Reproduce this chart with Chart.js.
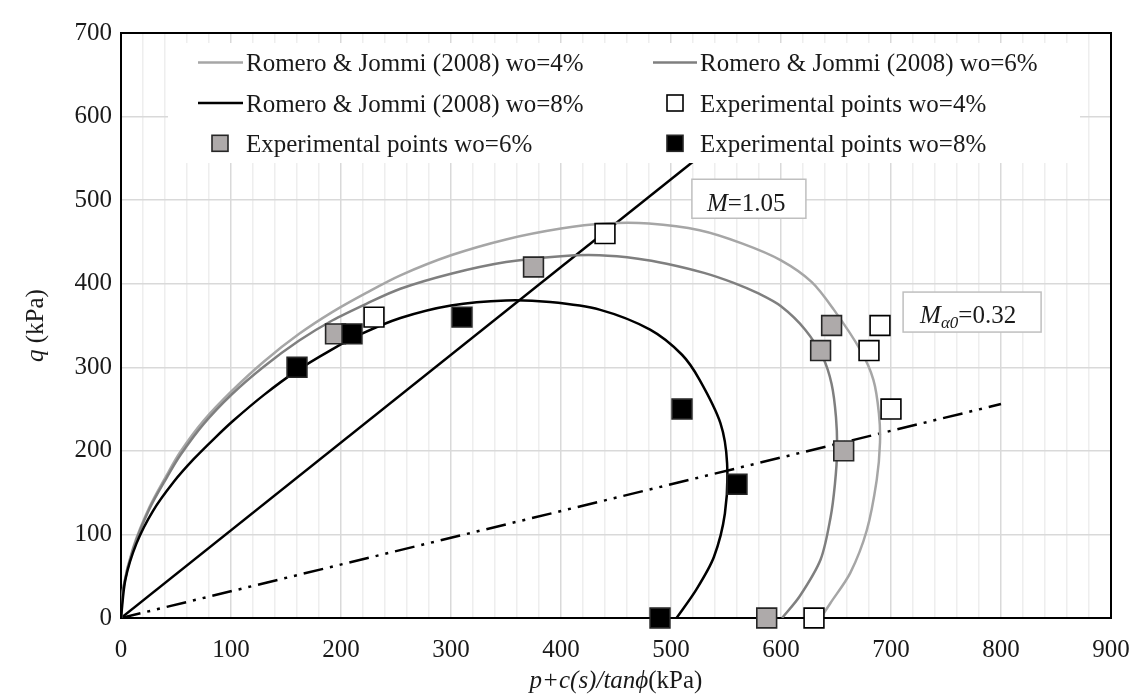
<!DOCTYPE html>
<html><head><meta charset="utf-8">
<script src="https://cdn.jsdelivr.net/npm/chart.js@4.4.0/dist/chart.umd.min.js"></script>
<style>html,body{margin:0;padding:0;background:#fff;}canvas{display:block;}</style>
</head><body>
<canvas id="c" width="1137" height="700"></canvas>
<script>
// ---- data ----
const rj4 = [[0,0],[2,36],[11,84],[26,133],[42,172],[54,199],[75,236],[101,272],[130,307],[162,340],[192,366],[223,389],[254,410],[300,434],[350,453],[400,466],[440,472],[480,472],[526,464],[565,448],[600,428],[628,402],[648,369],[672,321],[684,285],[689,245],[690,210],[687,165],[678,105],[663,54],[645,18],[636,0]];
const rj6 = [[0,0],[2,35],[11,82],[26,131],[42,169],[54,195],[75,232],[101,268],[130,301],[162,332],[192,356],[223,376],[254,394],[300,412],[350,426],[400,433],[435,434],[470,430],[496,424],[530,413],[557,401],[580,388],[600,373],[622,345],[638,312],[646,280],[650,240],[651,200],[649,160],[645,120],[636,70],[617,26],[601,0]];
const rj8 = [[0,0],[4,46],[14,89],[29,128],[48,163],[66,190],[85,215],[102,236],[130,267],[160,296],[190,320],[217,339],[254,359],[300,374],[350,380],[390,378],[435,369],[481,345],[510,315],[526,285],[545,233],[551,185],[549,125],[539,73],[523,34],[505,0]];
const exp4 = [[230,360],[440,460],[680,320],[690,350],[700,250],[630,0]];
const exp6 = [[195,340],[375,420],[636,320],[646,350],[657,200],[587,0]];
const exp8 = [[160,300],[210,340],[310,360],[510,250],[560,160],[490,0]];
const lineM = [[0,0],[600,630]];
const lineMa0 = [[0,0],[800,256]];
const legendLabels = ["Romero & Jommi (2008) wo=4%","Romero & Jommi (2008) wo=6%","Romero & Jommi (2008) wo=8%","Experimental points wo=4%","Experimental points wo=6%","Experimental points wo=8%"];
const xTitle = ["p+c(s)/tan\u03D5","(kPa)"];
const yTitle = ["q"," (kPa)"];
const annoM = ["M","=1.05"];
const annoMa0 = ["M","\u03B10","=0.32"];

const FONT = "'Liberation Serif','Times New Roman',serif";
const C4 = '#a6a6a6', C6 = '#7f7f7f', C8 = '#000000', CG = '#aeaaaa';
const TXT = '#1a1a1a';
const pts = a => a.map(p => ({x:p[0], y:p[1]}));

function curveDs(label, data, color){
  return {label, data: pts(data), showLine:true, borderColor:color, borderWidth:2.5, pointRadius:0, tension:0.3, fill:false};
}
function ptDs(label, data, fill, stroke){
  return {label, data: pts(data), showLine:false, pointStyle:'rect', pointRadius:14, pointHoverRadius:14,
    backgroundColor:fill, borderColor:stroke, borderWidth:1.6, clip:false};
}

const decor = {
  id:'decor',
  beforeDatasetsDraw(chart){
    const {ctx, chartArea:a} = chart;
    ctx.save(); ctx.strokeStyle='#000'; ctx.lineWidth=2;
    ctx.strokeRect(a.left, a.top, a.right-a.left, a.bottom-a.top);
    ctx.restore();
  },
  afterDatasetsDraw(chart){
    const {ctx} = chart;
    const sx = chart.scales.x, sy = chart.scales.y;
    ctx.save();
    // legend background
    ctx.fillStyle='#fff';
    ctx.fillRect(168, 43, 912, 120);
    const rows=[71,111.5,151.8], cols=[[198,246],[653,700]];
    const items=[
      {t:legendLabels[0], kind:'line', c:C4, col:0,row:0},
      {t:legendLabels[1], kind:'line', c:C6, col:1,row:0},
      {t:legendLabels[2], kind:'line', c:C8, col:0,row:1},
      {t:legendLabels[3], kind:'sq', f:'#fff', s:'#000', col:1,row:1},
      {t:legendLabels[4], kind:'sq', f:CG, s:'#262626', col:0,row:2},
      {t:legendLabels[5], kind:'sq', f:'#000', s:'#262626', col:1,row:2}
    ];
    ctx.font = '25px '+FONT; ctx.textBaseline='alphabetic'; ctx.textAlign='left';
    for(const it of items){
      const [lx, tx] = cols[it.col], by = rows[it.row];
      if(it.kind==='line'){
        ctx.strokeStyle=it.c; ctx.lineWidth=2.5; ctx.beginPath(); ctx.moveTo(lx, by-8.5); ctx.lineTo(tx-3, by-8.5); ctx.stroke();
      } else {
        const cx = lx+22, cy = by-8.5;
        ctx.fillStyle=it.f; ctx.fillRect(cx-8, cy-8, 16, 16);
        ctx.strokeStyle=it.s; ctx.lineWidth=1.6; ctx.strokeRect(cx-8, cy-8, 16, 16);
      }
      ctx.fillStyle=TXT; ctx.fillText(it.t, tx, by);
    }
    // annotation boxes
    function box(x0,y0,x1,y1){
      ctx.fillStyle='#fff'; ctx.fillRect(x0,y0,x1-x0,y1-y0);
      ctx.strokeStyle='#bfbfbf'; ctx.lineWidth=1.5; ctx.strokeRect(x0,y0,x1-x0,y1-y0);
      ctx.fillStyle=TXT;
    }
    let x0 = sx.getPixelForValue(519), y0 = sy.getPixelForValue(525);
    box(x0, y0, x0+114, y0+39);
    let tx = x0+15, ty = y0+32;
    ctx.font='italic 25px '+FONT; ctx.fillText(annoM[0], tx, ty); tx += ctx.measureText(annoM[0]).width;
    ctx.font='25px '+FONT; ctx.fillText(annoM[1], tx, ty);
    x0 = sx.getPixelForValue(711); y0 = sy.getPixelForValue(390);
    box(x0, y0, x0+138, y0+40);
    tx = x0+17; ty = y0+31;
    ctx.font='italic 25px '+FONT; ctx.fillText(annoMa0[0], tx, ty); tx += ctx.measureText(annoMa0[0]).width;
    ctx.font='italic 17px '+FONT; ctx.fillText(annoMa0[1], tx, ty+5); tx += ctx.measureText(annoMa0[1]).width;
    ctx.font='25px '+FONT; ctx.fillText(annoMa0[2], tx, ty);
    ctx.restore();
  },
  afterDraw(chart){
    const {ctx, chartArea:a} = chart;
    ctx.save(); ctx.fillStyle=TXT; ctx.textBaseline='alphabetic'; ctx.textAlign='left';
    // x title
    ctx.font='italic 25px '+FONT; const w1 = ctx.measureText(xTitle[0]).width;
    ctx.font='25px '+FONT; const w2 = ctx.measureText(xTitle[1]).width;
    let x = (a.left+a.right)/2 - (w1+w2)/2, y = 688;
    ctx.font='italic 25px '+FONT; ctx.fillText(xTitle[0], x, y);
    ctx.font='25px '+FONT; ctx.fillText(xTitle[1], x+w1, y);
    // y title
    ctx.translate(43, (a.top+a.bottom)/2); ctx.rotate(-Math.PI/2);
    ctx.font='italic 25px '+FONT; const v1 = ctx.measureText(yTitle[0]).width;
    ctx.font='25px '+FONT; const v2 = ctx.measureText(yTitle[1]).width;
    x = -(v1+v2)/2;
    ctx.font='italic 25px '+FONT; ctx.fillText(yTitle[0], x, 0);
    ctx.font='25px '+FONT; ctx.fillText(yTitle[1], x+v1, 0);
    ctx.restore();
  }
};

new Chart(document.getElementById('c'), {
  type:'scatter',
  data:{ datasets:[
    ptDs(legendLabels[5], exp8, '#000000', '#262626'),
    ptDs(legendLabels[4], exp6, CG, '#262626'),
    ptDs(legendLabels[3], exp4, '#ffffff', '#000000'),
    curveDs(legendLabels[2], rj8, C8),
    curveDs(legendLabels[1], rj6, C6),
    curveDs(legendLabels[0], rj4, C4),
    {label:'M', data:pts(lineM), showLine:true, borderColor:'#000', borderWidth:2.5, pointRadius:0},
    {label:'Ma0', data:pts(lineMa0), showLine:true, borderColor:'#000', borderWidth:2.5, pointRadius:0, borderDash:[20,7,3,7,3,7]}
  ]},
  options:{
    responsive:false, devicePixelRatio:1, animation:false,
    layout:{padding:{left:0,right:26,top:33,bottom:0}},
    plugins:{legend:{display:false}, tooltip:{enabled:false}},
    scales:{
      x:{type:'linear', min:0, max:900,
        afterFit(s){ s.height = 82; s.paddingLeft = 0; s.paddingRight = 0; },
        border:{display:false},
        grid:{drawTicks:false, lineWidth:1.5, color:c => (c.tick && c.tick.value % 100 === 0) ? '#d9d9d9' : '#eeeeee'},
        ticks:{stepSize:20, autoSkip:false, maxRotation:0, padding:17, color:TXT, font:{family:FONT, size:25},
          callback:v => (v % 100 === 0 ? String(v) : '')}
      },
      y:{type:'linear', min:0, max:700,
        afterFit(s){ s.width = 121; s.paddingTop = 0; s.paddingBottom = 0; },
        border:{display:false},
        grid:{drawTicks:false, lineWidth:1.5, color:'#d9d9d9'},
        ticks:{stepSize:100, padding:9, color:TXT, font:{family:FONT, size:25}}
      }
    }
  },
  plugins:[decor]
});
</script>
</body></html>
